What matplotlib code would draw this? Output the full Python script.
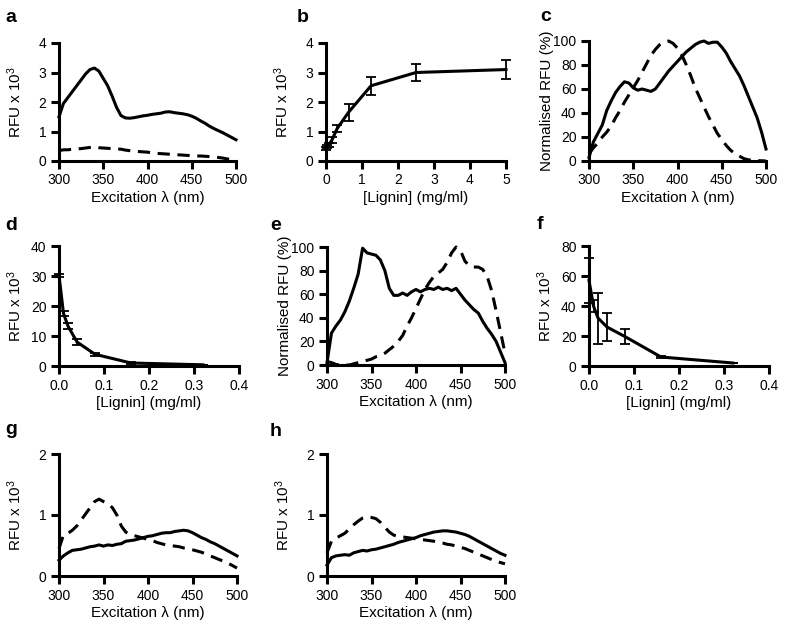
"""
Excitation spectra and lignin titration panels (a-h)
"""
import matplotlib
matplotlib.use("Agg")
import matplotlib.pyplot as plt

plt.rcParams['font.family'] = ['Liberation Sans', 'DejaVu Sans']

# excitation wavelengths (nm), shared by all spectra
wavelengths = [300, 305, 310, 315, 320, 325, 330, 335, 340, 345, 350, 355, 360, 365,
               370, 375, 380, 385, 390, 395, 400, 405, 410, 415, 420, 425, 430, 435,
               440, 445, 450, 455, 460, 465, 470, 475, 480, 485, 490, 495, 500]

# panel a (RFU x 10^3)
a_solid = [1.50, 1.95, 2.15, 2.35, 2.55, 2.75, 2.95, 3.10, 3.15, 3.05, 2.80, 2.55, 2.20, 1.82,
           1.54, 1.46, 1.45, 1.47, 1.50, 1.53, 1.55, 1.58, 1.60, 1.62, 1.66, 1.67, 1.64, 1.62,
           1.60, 1.57, 1.52, 1.45, 1.36, 1.28, 1.18, 1.10, 1.03, 0.96, 0.88, 0.80, 0.72]
a_dashed = [0.35, 0.38, 0.38, 0.40, 0.41, 0.42, 0.44, 0.46, 0.48, 0.45, 0.44, 0.43, 0.42, 0.41,
            0.40, 0.37, 0.35, 0.33, 0.32, 0.31, 0.30, 0.28, 0.26, 0.25, 0.24, 0.23, 0.22, 0.21,
            0.20, 0.19, 0.18, 0.17, 0.17, 0.16, 0.15, 0.14, 0.12, 0.10, 0.07, 0.05, 0.04]

# panel b: lignin titration
b_lignin = [0, 0.04, 0.08, 0.16, 0.31, 0.625, 1.25, 2.5, 5]
b_rfu = [0.42, 0.48, 0.55, 0.70, 1.10, 1.65, 2.55, 3.00, 3.10]
b_err = [0.05, 0.05, 0.06, 0.10, 0.12, 0.28, 0.30, 0.28, 0.33]

# panel c (normalised %)
c_solid = [3, 16, 23, 30, 42, 50, 57, 62, 66, 65, 61, 59, 60, 59,
           58, 60, 65, 70, 75, 79, 83, 87, 91, 94, 97, 99, 100, 98,
           99, 99, 95, 90, 83, 77, 71, 63, 54, 45, 36, 24, 10]
c_dashed = [6, 11, 15, 20, 24, 29, 36, 42, 49, 55, 61, 67, 74, 81,
            88, 93, 97, 99, 100, 98, 94, 88, 80, 71, 61, 53, 45, 37,
            30, 23, 18, 13, 9, 6, 4, 2, 1, 0.5, 0.3, 0.2, 0]

# panel d: quenching by lignin
d_lignin = [0, 0.01, 0.02, 0.04, 0.08, 0.16, 0.32]
d_rfu = [30.2, 17.5, 13.3, 8.0, 3.9, 1.0, 0.4]
d_err = [0.5, 0.8, 1.0, 1.0, 0.5, 0.2, 0.1]

# panel e (normalised %)
e_solid = [2, 27, 33, 38, 45, 54, 65, 77, 99, 95, 94, 93, 89, 80,
           65, 59, 59, 61, 59, 62, 64, 62, 64, 65, 64, 66, 64, 65,
           63, 65, 60, 55, 51, 47, 44, 37, 31, 26, 20, 11, 2]
e_dashed = [3, 2, 0.5, 0, 0, 0, 1, 2, 3, 4, 5, 7, 8, 10,
            13, 16, 20, 25, 33, 40, 48, 56, 64, 70, 75, 78, 81, 87,
            95, 100, 97, 88, 84, 83, 83, 81, 75, 63, 46, 28, 10]

# panel f: quenching by lignin
f_lignin = [0, 0.01, 0.02, 0.04, 0.08, 0.16, 0.32]
f_rfu = [57, 40, 32, 26, 19.6, 6, 2]
f_err = [15, 4, 17, 9.3, 5, 0.5, 0.3]

# panels g and h (RFU x 10^3)
g_solid = [0.26, 0.33, 0.38, 0.42, 0.43, 0.44, 0.46, 0.48, 0.49, 0.51, 0.49, 0.51, 0.50, 0.52,
           0.53, 0.57, 0.58, 0.59, 0.61, 0.63, 0.65, 0.66, 0.68, 0.70, 0.71, 0.71, 0.73, 0.74,
           0.75, 0.74, 0.71, 0.67, 0.63, 0.60, 0.56, 0.53, 0.49, 0.45, 0.41, 0.37, 0.33]
g_dashed = [0.45, 0.67, 0.70, 0.75, 0.82, 0.92, 1.02, 1.12, 1.22, 1.26, 1.22, 1.18, 1.12, 1.00,
            0.82, 0.72, 0.68, 0.66, 0.64, 0.62, 0.60, 0.58, 0.55, 0.53, 0.51, 0.50, 0.49, 0.48,
            0.46, 0.45, 0.43, 0.41, 0.39, 0.36, 0.33, 0.30, 0.27, 0.24, 0.21, 0.17, 0.13]
h_solid = [0.18, 0.30, 0.33, 0.34, 0.35, 0.34, 0.38, 0.40, 0.42, 0.41, 0.43, 0.44, 0.46, 0.48,
           0.50, 0.52, 0.55, 0.57, 0.59, 0.61, 0.63, 0.66, 0.68, 0.70, 0.72, 0.73, 0.74, 0.74,
           0.73, 0.72, 0.70, 0.68, 0.65, 0.61, 0.57, 0.53, 0.49, 0.45, 0.41, 0.37, 0.34]
h_dashed = [0.38, 0.57, 0.62, 0.66, 0.70, 0.77, 0.84, 0.90, 0.95, 0.97, 0.96, 0.94, 0.88, 0.80,
            0.72, 0.67, 0.65, 0.64, 0.63, 0.62, 0.61, 0.60, 0.59, 0.58, 0.57, 0.55, 0.54, 0.52,
            0.51, 0.49, 0.47, 0.45, 0.42, 0.39, 0.36, 0.33, 0.30, 0.27, 0.24, 0.22, 0.20]

W, H = 787, 630
RFU = "RFU x 10$\\mathregular{^3}$"
NORM = "Normalised RFU (%)"
EXC = "Excitation \u03bb (nm)"
LIG = "[Lignin] (mg/ml)"
DASH = (0, (4, 2.5))


def addAxes(fig, left, top, right, bottom):
    # pixel box of the plotting area -> figure fraction
    ax = fig.add_axes([left / W, 1 - bottom / H, (right - left) / W, (bottom - top) / H])
    ax.widthPx = right - left
    return ax


def styleAxes(ax, xlim, xticks, xlabels, ylim, yticks, xlabel, ylabel):
    for side in ["top", "right"]:
        ax.spines[side].set_visible(False)
    for side in ["left", "bottom"]:
        ax.spines[side].set_linewidth(2.2)
    ax.tick_params(direction="out", length=5.5, width=2.2, labelsize=10, pad=3.5)
    ax.set_xlim(xlim)
    ax.set_ylim(ylim)
    ax.set_xticks(xticks)
    ax.set_xticklabels(xlabels)
    ax.set_yticks(yticks)
    ax.set_xlabel(xlabel, fontsize=11, labelpad=2.5)
    ax.set_ylabel(ylabel, fontsize=11)
    # ylabel sits at a fixed distance left of the axis, like the original layout
    ax.yaxis.set_label_coords(-35 / ax.widthPx, 0.5)


def spectrum(ax, solid, dashed):
    ax.plot(wavelengths, solid, color="k", lw=2.2, clip_on=False)
    ax.plot(wavelengths, dashed, color="k", lw=2.2, linestyle=DASH, clip_on=False)


def titration(ax, x, y, err):
    ax.errorbar(x, y, yerr=err, color="k", lw=2.2, elinewidth=1.3,
                capsize=3.5, capthick=1.3, clip_on=False)


def letter(fig, text, x, y):
    fig.text(x / W, 1 - y / H, text, fontsize=14, fontweight="bold", va="baseline")


fig = plt.figure(figsize=(W / 100, H / 100), dpi=100)

wlTicks = [300, 350, 400, 450, 500]
wlLabels = [str(t) for t in wlTicks]
ligTicks = [0, 0.1, 0.2, 0.3, 0.4]
ligLabels = ["0.0", "0.1", "0.2", "0.3", "0.4"]

ax = addAxes(fig, 59, 43, 236, 161)
spectrum(ax, a_solid, a_dashed)
styleAxes(ax, (300, 500), wlTicks, wlLabels, (0, 4), [0, 1, 2, 3, 4], EXC, RFU)

ax = addAxes(fig, 326, 43, 506, 161)
titration(ax, b_lignin, b_rfu, b_err)
styleAxes(ax, (0, 5), [0, 1, 2, 3, 4, 5], ["0", "1", "2", "3", "4", "5"],
          (0, 4), [0, 1, 2, 3, 4], LIG, RFU)

ax = addAxes(fig, 589, 41, 766, 161)
spectrum(ax, c_solid, c_dashed)
styleAxes(ax, (300, 500), wlTicks, wlLabels, (0, 100), [0, 20, 40, 60, 80, 100], EXC, NORM)

ax = addAxes(fig, 59, 246, 239, 366)
titration(ax, d_lignin, d_rfu, d_err)
styleAxes(ax, (0, 0.4), ligTicks, ligLabels, (0, 40), [0, 10, 20, 30, 40], LIG, RFU)

ax = addAxes(fig, 327, 247, 505, 365)
spectrum(ax, e_solid, e_dashed)
styleAxes(ax, (300, 500), wlTicks, wlLabels, (0, 100), [0, 20, 40, 60, 80, 100], EXC, NORM)

ax = addAxes(fig, 589, 246, 769, 366)
titration(ax, f_lignin, f_rfu, f_err)
styleAxes(ax, (0, 0.4), ligTicks, ligLabels, (0, 80), [0, 20, 40, 60, 80], LIG, RFU)

ax = addAxes(fig, 59, 454, 237, 576)
spectrum(ax, g_solid, g_dashed)
styleAxes(ax, (300, 500), wlTicks, wlLabels, (0, 2), [0, 1, 2], EXC, RFU)

ax = addAxes(fig, 327, 454, 505, 576)
spectrum(ax, h_solid, h_dashed)
styleAxes(ax, (300, 500), wlTicks, wlLabels, (0, 2), [0, 1, 2], EXC, RFU)

letter(fig, "a", 5, 22)
letter(fig, "b", 297, 22)
letter(fig, "c", 540, 21)
letter(fig, "d", 5, 230)
letter(fig, "e", 270, 230)
letter(fig, "f", 537, 229)
letter(fig, "g", 5, 434)
letter(fig, "h", 270, 436)

fig.savefig("out.png", dpi=100)
